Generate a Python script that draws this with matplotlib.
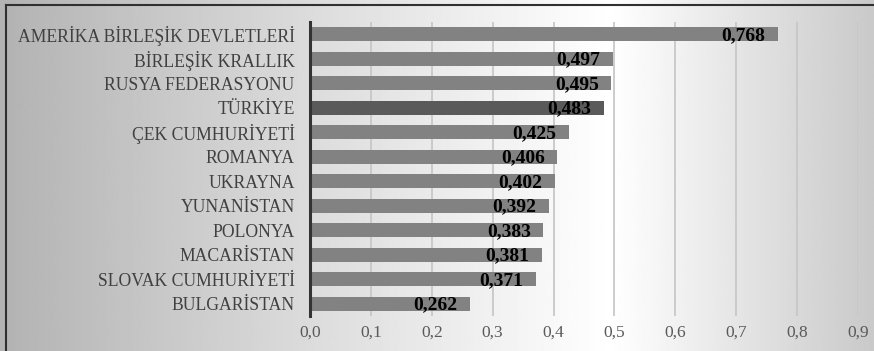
import numpy as np
import matplotlib.pyplot as plt
from matplotlib.ticker import FuncFormatter

# countries top to bottom, with their index values
countries = ["AMERİKA BİRLEŞİK DEVLETLERİ", "BİRLEŞİK KRALLIK", "RUSYA FEDERASYONU",
             "TÜRKİYE", "ÇEK CUMHURİYETİ", "ROMANYA", "UKRAYNA", "YUNANİSTAN",
             "POLONYA", "MACARİSTAN", "SLOVAK CUMHURİYETİ", "BULGARİSTAN"]
values = [0.768, 0.497, 0.495, 0.483, 0.425, 0.406, 0.402, 0.392, 0.383, 0.381, 0.371, 0.262]
highlight = "TÜRKİYE"
x_ticks = [0.0, 0.1, 0.2, 0.3, 0.4, 0.5, 0.6, 0.7, 0.8, 0.9]

plt.rcParams['font.family'] = ['Liberation Serif', 'DejaVu Serif']

fig = plt.figure(figsize=(8.74, 3.51), dpi=100)

# horizontal grey-white-grey background
bg = fig.add_axes([0, 0, 1, 1], zorder=-10)
xs = np.linspace(0, 1, 400)
shade = np.interp(xs, [0.0, 0.35, 0.70, 1.0], [0.70, 0.86, 1.0, 0.79])
bg.imshow(np.tile(shade, (10, 1)), cmap='gray', vmin=0, vmax=1, aspect='auto',
          extent=[0, 1, 0, 1], interpolation='bilinear')
bg.plot([0.007, 0.007], [0, 0.985], color='#303030', lw=1.5)
bg.plot([0.007, 1.0], [0.985, 0.985], color='#303030', lw=1.5)
bg.set_xlim(0, 1)
bg.set_ylim(0, 1)
bg.axis('off')

ax = fig.add_axes([310 / 874, 1 - 316 / 351, 548 / 874, 294 / 351])
ax.patch.set_alpha(0)

ypos = np.arange(len(countries))
colors = ['#5a5a5a' if c == highlight else '#828282' for c in countries]
ax.barh(ypos, values, height=0.57, color=colors, zorder=3)

for y, v in zip(ypos, values):
    ax.annotate(f"{v:.3f}".replace('.', ','), xy=(v, y), xytext=(-9, -1),
                textcoords='offset points', ha='right', va='center',
                fontsize=14, fontweight='bold', color='black', zorder=4)

ax.set_xlim(0, 0.9)
ax.set_ylim(len(countries) - 0.5, -0.5)
ax.set_xticks(x_ticks)
ax.xaxis.set_major_formatter(FuncFormatter(lambda v, p: f"{v:.1f}".replace('.', ',')))
ax.set_yticks(ypos)
ax.set_yticklabels(countries)

ax.grid(axis='x', color='#c8c8c8', lw=1.3, zorder=1)
ax.tick_params(axis='y', length=0, pad=11, labelsize=12.7, labelcolor='#404040')
ax.tick_params(axis='x', length=0, pad=6, labelsize=12.5, labelcolor='#5a5a5a')

for side in ['top', 'right', 'bottom']:
    ax.spines[side].set_visible(False)
ax.spines['left'].set_color('#333333')
ax.spines['left'].set_linewidth(2.2)
ax.spines['left'].set_zorder(5)

fig.savefig('out.png', dpi=100)
